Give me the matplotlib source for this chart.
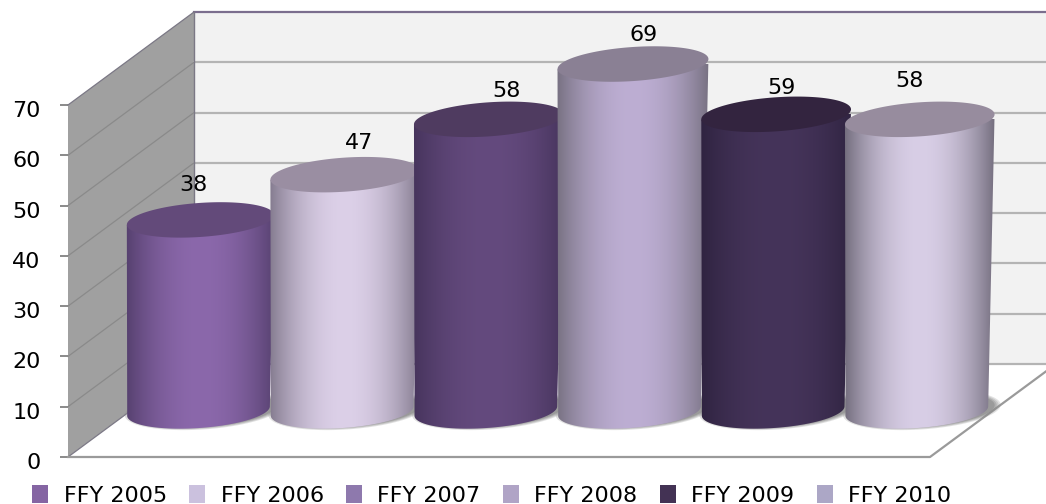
import numpy as np
import matplotlib
matplotlib.use('Agg')
import matplotlib.pyplot as plt
from matplotlib.colors import to_rgb
from matplotlib.patches import Patch, Polygon
from matplotlib.transforms import ScaledTranslation

labels = ['FFY 2005', 'FFY 2006', 'FFY 2007', 'FFY 2008', 'FFY 2009', 'FFY 2010']
values = [38, 47, 58, 69, 59, 58]
yticks = [0, 10, 20, 30, 40, 50, 60, 70]

legend_colors = ['#8565A3', '#CBC1DE', '#8E79AD', '#B0A4C6', '#433254', '#ACA7C6']
center_colors = ['#8B68AB', '#DCD0E8', '#644A7E', '#BDAED3', '#45345A', '#D8CEE6']
edge_colors = ['#56406F', '#837A8E', '#46345C', '#767080', '#2F2340', '#726C7C']
top_colors = ['#634A7A', '#9A8EA2', '#4F3B60', '#8A8094', '#33243F', '#978C9E']
# pixel nudges of the value labels from the top of each cylinder
label_nudge = [(-7, 35), (15, 32), (18, 28), (11, 29), (5, 26), (-10, 38)]

W, H = 1046, 504
fig = plt.figure(figsize=(W/100, H/100), dpi=100)
ax = fig.add_axes([68/W, (H-457)/H, 862/W, 352/H])
ax.set_xlim(-0.5, 5.5)
ax.set_ylim(0, 70)

# pixels to data units
ux = 6/862
uy = 70/352
depth_x, depth_y = 126*ux, 93*uy
bar_x, bar_y = 58.7*ux, 46*uy
left, right = -0.5, 5.5
tilt = np.radians(4)


def ellipse(cx, cy, a, b, t):
    dx = a*np.cos(t)*np.cos(tilt) - b*np.sin(t)*np.sin(tilt)
    dy = a*np.cos(t)*np.sin(tilt) + b*np.sin(t)*np.cos(tilt)
    return np.column_stack([cx + dx*ux, cy + dy*uy])


# walls and floor
ax.add_patch(Polygon([(left, 0), (left+depth_x, depth_y), (left+depth_x, 70+depth_y), (left, 70)],
                     fc='#A0A0A0', ec='none', clip_on=False, zorder=1))
ax.add_patch(Polygon([(left+depth_x, depth_y), (right+depth_x, depth_y), (right+depth_x, 70+depth_y), (left+depth_x, 70+depth_y)],
                     fc='#F2F2F2', ec='none', clip_on=False, zorder=1))
ax.add_patch(Polygon([(left, 0), (right, 0), (right+depth_x, depth_y), (left+depth_x, depth_y)],
                     fc='white', ec='none', clip_on=False, zorder=1))
for v in yticks:
    top_line = v == yticks[-1]
    c = '#7B6E8E' if top_line else '#B4B4B4'
    ax.plot([left+depth_x, right+depth_x], [v+depth_y]*2, color=c, lw=1.6, clip_on=False, zorder=2)
    ax.plot([left, left+depth_x], [v, v+depth_y], color='#7B7885' if top_line or v == 0 else '#8A8A8A',
            lw=0.9, clip_on=False, zorder=2)
ax.plot([left+depth_x]*2, [depth_y, 70+depth_y], color='#7B7885', lw=1.0, clip_on=False, zorder=2)
ax.plot([left, right, right+depth_x], [0, 0, depth_y], color='#9A9A9A', lw=1.6, clip_on=False, zorder=2)

# soft shadows on the floor
t_full = np.linspace(0, 2*np.pi, 120)
for i in range(len(values)):
    for grow, alpha in zip([6, 4, 2, 0], [0.25, 0.3, 0.4, 0.6]):
        pts = ellipse(i+bar_x+5*ux, bar_y+1*uy, 73+grow, 17+grow*0.4, t_full)
        ax.add_patch(Polygon(pts, fc='#8C8C8C', ec='none', alpha=alpha, clip_on=False, zorder=3))

# cylinders, later ones in front
prof = np.linspace(-1, 1, 160)
for i, v in enumerate(values):
    z = 4 + i
    half_w = 71.5 + v*0.06
    top_cx = i + bar_x + v*0.05*ux
    top_cy = v + bar_y
    arc = ellipse(i+bar_x, bar_y, 71.5, 17, np.linspace(np.pi, 2*np.pi, 60))
    top_ends = ellipse(top_cx, top_cy, half_w, 17, np.array([0, np.pi]))
    body = Polygon(np.vstack([arc, top_ends]), fc='none', ec='none', transform=ax.transData)
    ax.add_patch(body)

    shade = np.abs(prof)**2.0
    shade = np.clip(shade, 0, 1)[None, :, None]
    grad = np.array(to_rgb(center_colors[i]))*(1-shade) + np.array(to_rgb(edge_colors[i]))*shade
    x0, x1 = top_cx - (half_w+1)*ux, top_cx + (half_w+1)*ux
    im = ax.imshow(grad, extent=[x0, x1, 0, top_cy], aspect='auto', zorder=z, interpolation='bilinear')
    im.set_clip_box(fig.bbox)
    im.set_clip_path(body)

    ax.add_patch(Polygon(ellipse(top_cx, top_cy, half_w, 17, t_full), fc=top_colors[i], ec='none',
                         clip_on=False, zorder=z+0.5))
    ax.annotate(str(v), (top_cx, top_cy), xytext=label_nudge[i], textcoords='offset pixels',
                ha='center', va='center', fontsize=16, color='black', zorder=20, annotation_clip=False)

ax.set_xlim(-0.5, 5.5)
ax.set_ylim(0, 70)
ax.patch.set_visible(False)
for s in ax.spines.values():
    s.set_visible(False)
ax.set_xticks([])
ax.set_yticks(yticks)
ax.tick_params(axis='y', length=5.8, width=1.4, color='#8A8A8A', pad=14, labelsize=16, labelcolor='black')
for lab in ax.get_yticklabels():
    lab.set_transform(lab.get_transform() + ScaledTranslation(0, -4/100, fig.dpi_scale_trans))

handles = [Patch(fc=c, ec='none', label=l) for c, l in zip(legend_colors, labels)]
fig.legend(handles=handles, ncol=6, loc='lower left', bbox_to_anchor=(32/W, -0.003), frameon=False,
           fontsize=16, handlelength=0.72, handleheight=0.9, handletextpad=0.7,
           columnspacing=1.0, borderpad=0, borderaxespad=0)

fig.savefig('out.png', dpi=100)
